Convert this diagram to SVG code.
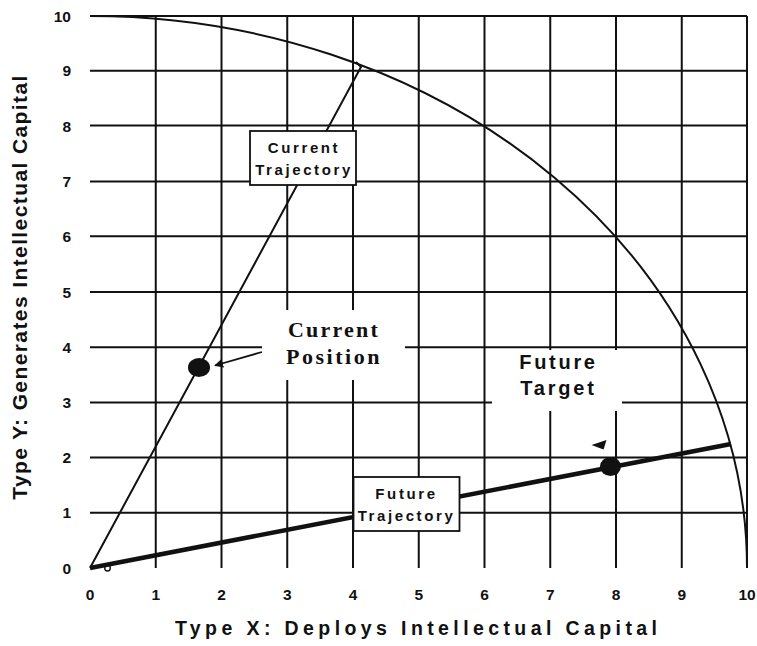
<svg xmlns="http://www.w3.org/2000/svg" width="757" height="646" viewBox="0 0 757 646">
<style>
.grid{stroke:#111;stroke-width:2;fill:none}
.tick{font-family:"Liberation Sans",Arial,sans-serif;font-weight:bold;font-size:15.5px;fill:#111}
.lbl{font-family:"Liberation Sans",Arial,sans-serif;font-weight:bold;font-size:15px;letter-spacing:2.6px;fill:#111}
.box{fill:#fff;stroke:#111;stroke-width:1.8}
.ttl{font-family:"Liberation Sans",Arial,sans-serif;font-weight:bold;fill:#111}
</style>
<defs>
<marker id="ah" viewBox="0 0 10 10" refX="9" refY="5" markerWidth="9" markerHeight="9" markerUnits="userSpaceOnUse" orient="auto">
<path d="M0,0 L10,5 L0,10 z" fill="#111"/>
</marker>
</defs>
<rect width="757" height="646" fill="#fff"/>
<g id="grid" class="grid">
<path d="M90,16H747 M90,70.8H747 M90,125.6H747 M90,181.4H747 M90,236.2H747 M90,292H747 M90,347.2H747 M90,402.4H747 M90,457.6H747 M90,512.8H747"/>
<path d="M155.75,16V568 M221.5,16V568 M287.25,16V568 M353,16V568 M418.75,16V568 M484.5,16V568 M550.25,16V568 M616,16V568 M681.75,16V568 M747,16V568"/>
</g>
<g id="frontier">
<path d="M90,16 A657,552 0 0 1 747,568" fill="none" stroke="#111" stroke-width="2"/>
</g>
<g id="yticks" class="tick" text-anchor="end">
<text x="71" y="21.5">10</text>
<text x="71" y="76.3">9</text>
<text x="71" y="131.5">8</text>
<text x="71" y="187">7</text>
<text x="71" y="241.8">6</text>
<text x="71" y="297.5">5</text>
<text x="71" y="352.7">4</text>
<text x="71" y="407.9">3</text>
<text x="71" y="463.1">2</text>
<text x="71" y="518.3">1</text>
<text x="71" y="573.5">0</text>
</g>
<g id="xticks" class="tick" text-anchor="middle">
<text x="90" y="599.5">0</text>
<text x="155.75" y="599.5">1</text>
<text x="221.5" y="599.5">2</text>
<text x="287.25" y="599.5">3</text>
<text x="353" y="599.5">4</text>
<text x="418.75" y="599.5">5</text>
<text x="484.5" y="599.5">6</text>
<text x="550.25" y="599.5">7</text>
<text x="616" y="599.5">8</text>
<text x="681.75" y="599.5">9</text>
<text x="747" y="599.5">10</text>
</g>
<g id="x-title">
<text class="ttl" x="175" y="635" font-size="19.5" letter-spacing="4.4">Type X: Deploys Intellectual Capital</text>
</g>
<g id="y-title">
<text class="ttl" transform="translate(27,287) rotate(-90)" x="0" y="0" text-anchor="middle" font-size="21" letter-spacing="1.4">Type Y: Generates Intellectual Capital</text>
</g>
<g id="connectors">
<path id="current-trajectory" d="M90,568 L361,67 L356,62" fill="none" stroke="#111" stroke-width="2"/>
<path id="future-trajectory" d="M90,568 L731,444" fill="none" stroke="#111" stroke-width="4.5"/>
<path id="position-arrow" d="M262,352 L215,365.5" fill="none" stroke="#111" stroke-width="1.8" marker-end="url(#ah)"/>
<polygon id="target-arrowhead" points="591.5,445 606.5,440 603.5,449.5" fill="#111"/>
</g>
<g id="origin-mark">
<ellipse cx="107.5" cy="568" rx="2.8" ry="3" fill="none" stroke="#111" stroke-width="1.4"/>
</g>
<g id="current-trajectory-label">
<rect class="box" x="250" y="131" width="106" height="54"/>
<text class="lbl" x="304" y="152.5" text-anchor="middle">Current</text>
<text class="lbl" x="304" y="175" text-anchor="middle">Trajectory</text>
</g>
<g id="future-trajectory-label">
<rect class="box" x="353.5" y="477" width="106" height="54"/>
<text class="lbl" x="406.5" y="498.5" text-anchor="middle">Future</text>
<text class="lbl" x="406.5" y="521" text-anchor="middle">Trajectory</text>
</g>
<g id="current-position">
<rect x="262" y="310" width="143" height="70" fill="#fff"/>
<text x="334" y="337.3" text-anchor="middle" font-family="'Liberation Serif','Times New Roman',serif" font-weight="bold" font-size="22" letter-spacing="2.2" fill="#111">Current</text>
<text x="334" y="364" text-anchor="middle" font-family="'Liberation Serif','Times New Roman',serif" font-weight="bold" font-size="22" letter-spacing="2.5" fill="#111">Position</text>
<ellipse cx="199" cy="367.5" rx="11" ry="9.5" fill="#111"/>
</g>
<g id="future-target">
<rect x="492" y="350" width="130" height="61" fill="#fff"/>
<text class="ttl" x="558.5" y="369.3" text-anchor="middle" font-size="20" letter-spacing="2.7">Future</text>
<text class="ttl" x="558.5" y="395" text-anchor="middle" font-size="20" letter-spacing="2.8">Target</text>
<ellipse cx="610.5" cy="466.5" rx="10.5" ry="9.5" fill="#111"/>
</g>
</svg>
